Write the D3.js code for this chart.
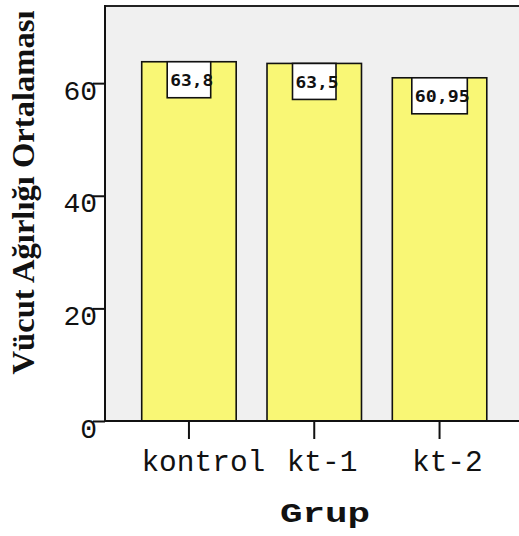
<!DOCTYPE html>
<html>
<head>
<meta charset="utf-8">
<script src="https://cdn.jsdelivr.net/npm/d3@7"></script>
<style>
  html, body { margin: 0; padding: 0; background: #ffffff; }
  svg { display: block; }
</style>
</head>
<body>
<svg id="chart" width="519" height="536"></svg>
<script>
// Mean body weight per group
const groups = ["kontrol", "kt-1", "kt-2"];
const means = [63.8, 63.5, 60.95];
const valueLabels = ["63,8", "63,5", "60,95"];
const yTicks = [0, 20, 40, 60];
const yTitle = "Vücut Ağırlığı Ortalaması";
const xTitle = "Grup";

const svg = d3.select("#chart");
const plotLeft = 105, plotTop = 6, plotBottom = 421, plotRight = 540;

const y = d3.scaleLinear().domain([0, 73.7]).range([plotBottom, plotTop]);
const x = d3.scaleBand().domain(groups).range([126.3, 502.2])
  .paddingInner(0.246).paddingOuter(0.123);

// plot background
svg.append("rect")
  .attr("x", plotLeft).attr("y", plotTop)
  .attr("width", plotRight - plotLeft).attr("height", plotBottom - plotTop)
  .attr("fill", "#f0f0f0");

// frame: top border
svg.append("line")
  .attr("x1", plotLeft).attr("x2", plotRight)
  .attr("y1", plotTop).attr("y2", plotTop)
  .attr("stroke", "#222").attr("stroke-width", 1.8);

// bars
const data = groups.map((g, i) => ({ g, v: means[i], label: valueLabels[i] }));
svg.selectAll("rect.bar").data(data).join("rect")
  .attr("class", "bar")
  .attr("x", d => x(d.g))
  .attr("y", d => y(d.v))
  .attr("width", x.bandwidth())
  .attr("height", d => y(0) - y(d.v))
  .attr("fill", "#f9f775")
  .attr("stroke", "#111")
  .attr("stroke-width", 1.6);

// value label boxes
const charW = 12;
const lab = svg.selectAll("g.vlab").data(data).join("g").attr("class", "vlab");
lab.append("rect")
  .attr("x", d => x(d.g) + x.bandwidth() / 2 - (d.label.length * charW - 4.5) / 2)
  .attr("y", d => y(d.v))
  .attr("width", d => d.label.length * charW - 4.5)
  .attr("height", 36)
  .attr("fill", "#ffffff")
  .attr("stroke", "#111")
  .attr("stroke-width", 1.6);
lab.append("text")
  .attr("x", d => x(d.g) + x.bandwidth() / 2 - (d.label.length * charW - 4.5) / 2 + 3)
  .attr("y", d => y(d.v) + 24.5)
  .attr("font-family", "'DejaVu Sans Mono', monospace")
  .attr("font-weight", "bold")
  .attr("font-size", 15)
  .attr("textLength", d => d.label.length * charW - 5)
  .attr("lengthAdjust", "spacingAndGlyphs")
  .attr("fill", "#111")
  .text(d => d.label);

// y axis
const yAxis = d3.axisLeft(y).tickValues(yTicks).tickSize(12).tickFormat(d3.format("d"));
const gy = svg.append("g").attr("transform", `translate(${plotLeft},0)`).call(yAxis);
gy.select(".domain").remove();
gy.selectAll(".tick line").attr("stroke", "#111").attr("stroke-width", 2);
gy.selectAll(".tick text")
  .attr("x", -8).attr("dy", null).attr("y", 16)
  .attr("font-family", "'Liberation Mono', 'Courier New', monospace")
  .attr("font-size", 28)
  .attr("fill", "#111");
svg.append("line")
  .attr("x1", plotLeft).attr("x2", plotLeft)
  .attr("y1", plotTop - 0.9).attr("y2", plotBottom)
  .attr("stroke", "#111").attr("stroke-width", 2);

// x axis
const xAxis = d3.axisBottom(x).tickSize(18).tickSizeOuter(0);
const gx = svg.append("g").attr("transform", `translate(0,${plotBottom})`).call(xAxis);
gx.select(".domain").remove();
gx.selectAll(".tick line").attr("stroke", "#111").attr("stroke-width", 2);
gx.selectAll(".tick text")
  .attr("text-anchor", "start")
  .attr("x", d => -d.length * 6.65 - 1)
  .attr("y", 49.7).attr("dy", null)
  .attr("font-family", "'Liberation Mono', 'Courier New', monospace")
  .attr("font-size", 29.5)
  .attr("fill", "#111");
svg.append("line")
  .attr("x1", plotLeft).attr("x2", plotRight)
  .attr("y1", plotBottom).attr("y2", plotBottom)
  .attr("stroke", "#111").attr("stroke-width", 2);

// axis titles
svg.append("text")
  .attr("x", 280).attr("y", 521.7)
  .attr("font-family", "'Liberation Mono', 'Courier New', monospace")
  .attr("font-weight", "bold")
  .attr("font-size", 27)
  .attr("textLength", 90)
  .attr("lengthAdjust", "spacingAndGlyphs")
  .attr("fill", "#111")
  .text(xTitle);

svg.append("text")
  .attr("transform", "translate(33.5,192.5) rotate(-90)")
  .attr("text-anchor", "middle")
  .attr("font-family", "'Liberation Serif', 'Times New Roman', serif")
  .attr("font-weight", "bold")
  .attr("font-size", 32)
  .attr("textLength", 364)
  .attr("lengthAdjust", "spacingAndGlyphs")
  .attr("fill", "#111")
  .text(yTitle);
</script>
</body>
</html>
